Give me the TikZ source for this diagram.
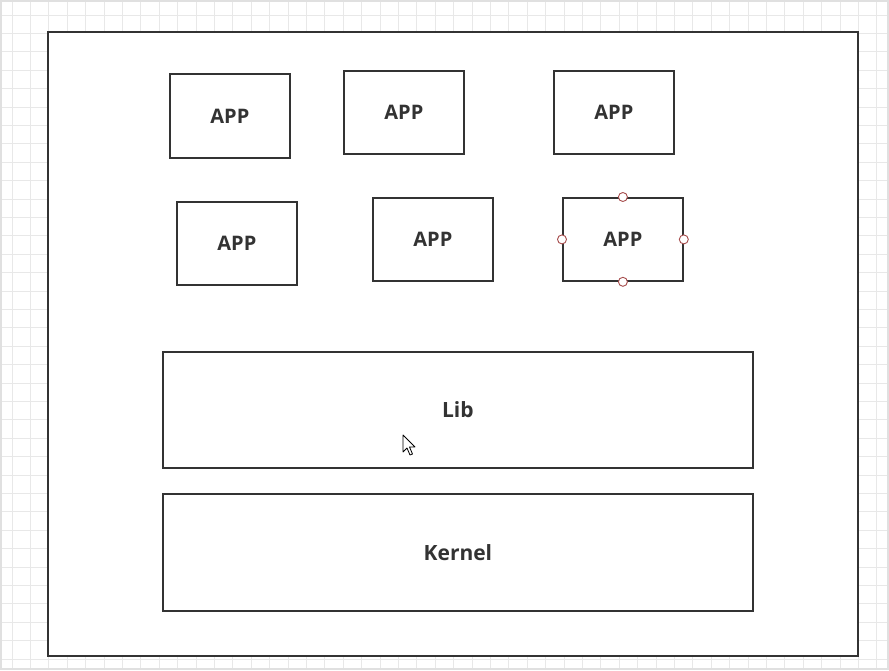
\documentclass[tikz,border=0pt]{standalone}
\usepackage{fontspec}
\setmainfont{Open Sans}
\begin{document}
\begin{tikzpicture}[x=1pt,y=-1pt,
  box/.style={draw=black!80,line width=1.8pt,fill=white,inner sep=0pt,font=\fontsize{20}{24}\selectfont\bfseries,text=black!80},
  handle/.style={circle,draw=red!50!black!70,fill=white,line width=0.9pt,minimum size=9pt,inner sep=0pt}]
\useasboundingbox (0,0) rectangle (889,670);
\fill[white] (0,0) rectangle (889,670);
\foreach \i in {0,...,48} {\draw[black!9,line width=1pt] (12+18.4*\i,0) -- (12+18.4*\i,670);}
\foreach \i in {0,...,36} {\draw[black!9,line width=1pt] (0,15+18.4*\i) -- (889,15+18.4*\i);}
\draw[black!12,line width=2pt] (1,1) rectangle (888,669);
\node[box,minimum width=810pt,minimum height=624pt,anchor=north west] (outer) at (47,31) {};
\node[box,minimum width=120pt,minimum height=84pt,anchor=north west] (a1) at (169,73) {APP};
\node[box,minimum width=120pt,minimum height=83pt,anchor=north west] (a2) at (343,70) {APP};
\node[box,minimum width=120pt,minimum height=83pt,anchor=north west] (a3) at (553,70) {APP};
\node[box,minimum width=120pt,minimum height=83pt,anchor=north west] (a4) at (176,201) {APP};
\node[box,minimum width=120pt,minimum height=83pt,anchor=north west] (a5) at (372,197) {APP};
\node[box,minimum width=120pt,minimum height=83pt,anchor=north west] (a6) at (562,197) {APP};
\node[box,minimum width=590pt,minimum height=116pt,anchor=north west,font=\fontsize{21}{25}\selectfont\bfseries] (lib) at (162,351) {Lib};
\node[box,minimum width=590pt,minimum height=117pt,anchor=north west,font=\fontsize{21}{25}\selectfont\bfseries] (kernel) at (162,493) {Kernel};
\node[handle] (h1) at (a6.north) {};
\node[handle] (h2) at (a6.south) {};
\node[handle] (h3) at (a6.west) {};
\node[handle] (h4) at (a6.east) {};
\draw[fill=white,draw=black,line width=0.8pt,line join=round] (403,435) -- (403,452) -- (407,448) -- (410,455) -- (412.5,454) -- (409.5,447) -- (415,447) -- cycle;
\end{tikzpicture}
\end{document}
